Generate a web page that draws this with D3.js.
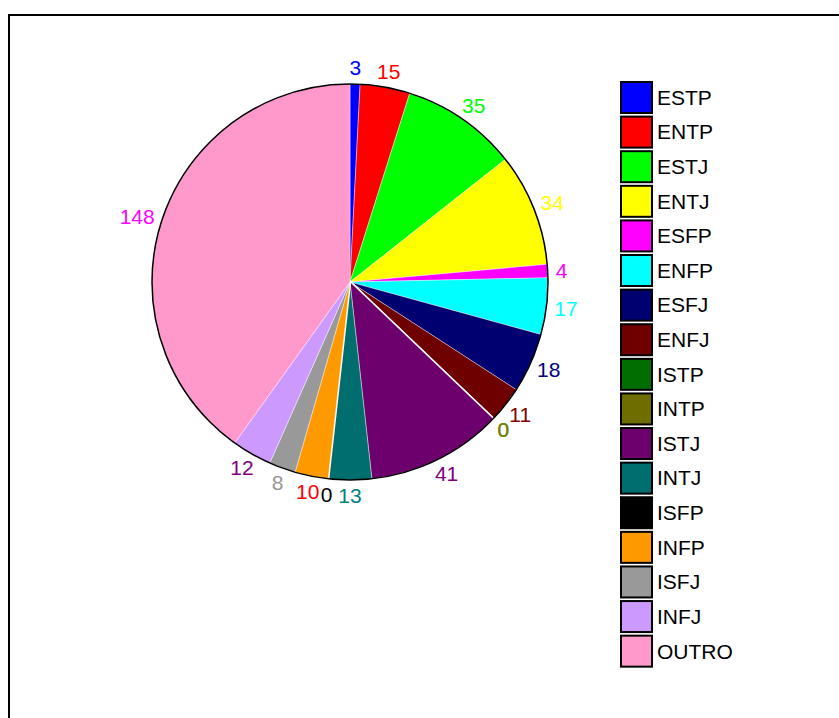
<html>
<head>
  <script src="https://cdnjs.cloudflare.com/ajax/libs/d3/7.8.5/d3.min.js"></script>
  <style>
    body { margin: 0; background: #fff; }
    svg { font-family: "Liberation Sans", Arial, sans-serif; }
  </style>
</head>
<body>
  <svg width="839" height="718"></svg>
  <script>
    var types = ["ESTP", "ENTP", "ESTJ", "ENTJ", "ESFP", "ENFP", "ESFJ", "ENFJ", "ISTP",
      "INTP", "ISTJ", "INTJ", "ISFP", "INFP", "ISFJ", "INFJ", "OUTRO"];
    var counts = [3, 15, 35, 34, 4, 17, 18, 11, 0, 0, 41, 13, 0, 10, 8, 12, 148];
    var fills = ["#0000ff", "#ff0000", "#00ff00", "#ffff00", "#ff00ff", "#00ffff", "#000070", "#6e0000",
      "#006e00", "#6e6e00", "#6e006e", "#006e6e", "#000000", "#ff9900", "#999999", "#cc99ff", "#ff99cc"];
    var labelColors = ["#0000ff", "#ff0000", "#00ff00", "#ffff00", "#ff00ff", "#00ffff", "#000080", "#800000",
      "#008000", "#808000", "#800080", "#008080", "#000000", "#ff0000", "#969696", "#800080", "#ff00ff"];

    var svg = d3.select("svg");
    var cx = 350, cy = 282, radius = 198;

    // frame
    svg.append("rect")
      .attr("x", 9).attr("y", 15).attr("width", 850).attr("height", 720)
      .style("fill", "none").style("stroke", "black").style("stroke-width", 2);

    var data = types.map((t, i) => ({ type: t, count: counts[i], fill: fills[i], lc: labelColors[i] }));
    var pie = d3.pie().value(d => d.count).sort(null);
    var arcs = pie(data);
    var arc = d3.arc().innerRadius(0).outerRadius(radius);

    var g = svg.append("g").attr("transform", "translate(" + cx + "," + cy + ")");

    g.selectAll("path.slice")
      .data(arcs)
      .enter()
      .append("path")
      .attr("class", "slice")
      .attr("d", arc)
      .style("fill", d => d.data.fill)
      .style("stroke", "white")
      .style("stroke-width", d => d.data.count === 0 ? 2.5 : 0.4);

    g.append("circle")
      .attr("r", radius)
      .style("fill", "none")
      .style("stroke", "black")
      .style("stroke-width", 1.5);

    // data labels just outside the rim
    var gap = 8, halfH = 8;
    g.selectAll("text.lbl")
      .data(arcs)
      .enter()
      .append("text")
      .attr("class", "lbl")
      .style("font-size", "21px")
      .style("fill", d => d.data.lc)
      .attr("text-anchor", "middle")
      .attr("dy", "0.35em")
      .text(d => d.data.count)
      .each(function (d) {
        var a = (d.startAngle + d.endAngle) / 2;
        var w = this.getComputedTextLength();
        var x = Math.sin(a) * (radius + gap) + Math.sin(a) * w / 2;
        var y = -Math.cos(a) * (radius + gap) - Math.cos(a) * halfH;
        d3.select(this).attr("x", x).attr("y", y);
      });

    // legend
    var legendY = d3.scaleBand().domain(types).range([82, 82 + 34.4 * types.length]).paddingInner(0.1);
    var leg = svg.append("g").selectAll("g")
      .data(data)
      .enter()
      .append("g")
      .attr("transform", d => "translate(621," + legendY(d.type) + ")");

    leg.append("rect")
      .attr("width", 31).attr("height", 31)
      .style("fill", d => d.fill)
      .style("stroke", "black").style("stroke-width", 2);

    leg.append("text")
      .attr("x", 36).attr("y", 15.5).attr("dy", "0.35em")
      .style("font-size", "21px")
      .text(d => d.type);
  </script>
</body>
</html>
